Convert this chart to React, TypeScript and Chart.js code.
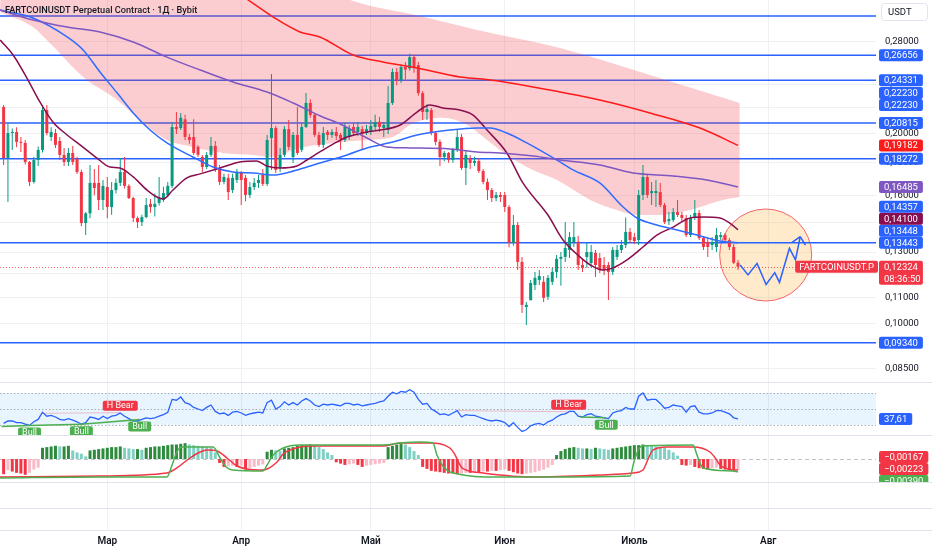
import React, { useEffect, useRef } from "react";
import { Chart, registerables } from "chart.js";

Chart.register(...registerables);

// ================= DATA =================
const TITLE = "FARTCOINUSDT Perpetual Contract · 1Д · Bybit";
const SYMBOL = "FARTCOINUSDT.P";
const COUNTDOWN = "08:36:50";
const CURRENCY = "USDT";

// day offsets are counted from 1 March
const FIRST_DAY = -24;
const monthTickDays = [0, 31, 61, 92, 122, 153];
const monthTickLabels = ["Мар", "Апр", "Май", "Июн", "Июль", "Авг"];
const priceTickValues = [0.28, 0.24, 0.22, 0.2, 0.18, 0.16, 0.145, 0.13, 0.12, 0.11, 0.1, 0.085];

const candleOpen = [
  0.2207, 0.1832, 0.2007, 0.2015, 0.1943, 0.1936, 0.1806, 0.1679, 0.1819, 0.1887,
  0.2183, 0.1978, 0.2007, 0.1950, 0.1853, 0.1806, 0.1866, 0.1826, 0.1741, 0.1445,
  0.1497, 0.1673, 0.1673, 0.1572, 0.1648, 0.1532, 0.1630, 0.1673, 0.1741, 0.1655,
  0.1583, 0.1472, 0.1450, 0.1477, 0.1550, 0.1532, 0.1555, 0.1572, 0.1601, 0.1655,
  0.2052, 0.2044, 0.2110, 0.1978, 0.1978, 0.1908, 0.1839, 0.1773, 0.1853, 0.1915,
  0.1766, 0.1679, 0.1704, 0.1630, 0.1691, 0.1735, 0.1704, 0.1601, 0.1648, 0.1673,
  0.1722, 0.1667, 0.1971, 0.2044, 0.1766, 0.1853, 0.2036, 0.1839, 0.1993, 0.1887,
  0.2052, 0.2240, 0.2145, 0.1993, 0.1922, 0.2015, 0.1993, 0.2015, 0.1993, 0.1957,
  0.1978, 0.2052, 0.2015, 0.2036, 0.2007, 0.2022, 0.2052, 0.2090, 0.2044, 0.2029,
  0.2240, 0.2508, 0.2436, 0.2554, 0.2540, 0.2648, 0.2572, 0.2322, 0.2167, 0.2183,
  0.2007, 0.1943, 0.1839, 0.1866, 0.1819, 0.1887, 0.1978, 0.1767, 0.1832, 0.1799,
  0.1812, 0.1747, 0.1679, 0.1630, 0.1583, 0.1601, 0.1601, 0.1532, 0.1344, 0.1435,
  0.1254, 0.1064, 0.1090, 0.1153, 0.1174, 0.1166, 0.1104, 0.1166, 0.1209, 0.1268,
  0.1277, 0.1310, 0.1348, 0.1350, 0.1240, 0.1277, 0.1249, 0.1296, 0.1272, 0.1240,
  0.1240, 0.1209, 0.1277, 0.1310, 0.1334, 0.1399, 0.1373, 0.1358, 0.1601, 0.1710,
  0.1612, 0.1612, 0.1618, 0.1543, 0.1455, 0.1461, 0.1504, 0.1488, 0.1472, 0.1383,
  0.1472, 0.1499, 0.1368, 0.1348, 0.1334, 0.1324, 0.1373, 0.1383, 0.1358, 0.1324, 0.1250,
];
const candleHigh = [
  0.2224, 0.2082, 0.2040, 0.2050, 0.1978, 0.1957, 0.1812, 0.1840, 0.1910, 0.2224,
  0.2224, 0.2050, 0.2036, 0.1978, 0.1901, 0.1901, 0.1915, 0.1840, 0.1755, 0.1505,
  0.1786, 0.1760, 0.1786, 0.1691, 0.1710, 0.1679, 0.1700, 0.1832, 0.1839, 0.1665,
  0.1590, 0.1480, 0.1490, 0.1583, 0.1577, 0.1610, 0.1710, 0.1650, 0.1679, 0.2090,
  0.2167, 0.2160, 0.2145, 0.2000, 0.2110, 0.1920, 0.1853, 0.1873, 0.1978, 0.1950,
  0.1786, 0.1730, 0.1730, 0.1730, 0.1760, 0.1745, 0.1722, 0.1679, 0.1704, 0.1722,
  0.1760, 0.1993, 0.2490, 0.2060, 0.1901, 0.2060, 0.2105, 0.2015, 0.2207, 0.2082,
  0.2322, 0.2270, 0.2160, 0.2015, 0.2052, 0.2029, 0.2036, 0.2052, 0.2007, 0.2082,
  0.2067, 0.2082, 0.2090, 0.2060, 0.2067, 0.2105, 0.2145, 0.2130, 0.2090, 0.2383,
  0.2540, 0.2545, 0.2580, 0.2600, 0.2680, 0.2670, 0.2600, 0.2340, 0.2230, 0.2200,
  0.2020, 0.1960, 0.1880, 0.1873, 0.1901, 0.2029, 0.2000, 0.1880, 0.1853, 0.1840,
  0.1830, 0.1760, 0.1700, 0.1642, 0.1618, 0.1618, 0.1618, 0.1543, 0.1488, 0.1450,
  0.1277, 0.1083, 0.1174, 0.1209, 0.1217, 0.1191, 0.1196, 0.1227, 0.1286, 0.1300,
  0.1450, 0.1399, 0.1450, 0.1380, 0.1263, 0.1344, 0.1334, 0.1310, 0.1296, 0.1277,
  0.1254, 0.1324, 0.1334, 0.1358, 0.1474, 0.1419, 0.1394, 0.1630, 0.1786, 0.1722,
  0.1679, 0.1691, 0.1673, 0.1555, 0.1504, 0.1527, 0.1572, 0.1504, 0.1488, 0.1488,
  0.1572, 0.1515, 0.1378, 0.1368, 0.1373, 0.1419, 0.1399, 0.1394, 0.1368, 0.1339, 0.1263,
];
const candleLow = [
  0.1786, 0.1560, 0.1887, 0.1906, 0.1873, 0.1790, 0.1655, 0.1670, 0.1780, 0.1870,
  0.1990, 0.1950, 0.1900, 0.1819, 0.1780, 0.1780, 0.1786, 0.1728, 0.1430, 0.1384,
  0.1470, 0.1600, 0.1515, 0.1515, 0.1470, 0.1490, 0.1610, 0.1655, 0.1640, 0.1577,
  0.1450, 0.1419, 0.1430, 0.1470, 0.1500, 0.1480, 0.1540, 0.1560, 0.1589, 0.1642,
  0.2000, 0.2029, 0.1957, 0.1930, 0.1853, 0.1839, 0.1741, 0.1760, 0.1839, 0.1741,
  0.1661, 0.1665, 0.1572, 0.1612, 0.1673, 0.1543, 0.1565, 0.1583, 0.1630, 0.1642,
  0.1655, 0.1655, 0.1754, 0.1735, 0.1741, 0.1839, 0.1887, 0.1799, 0.1853, 0.1873,
  0.2044, 0.2122, 0.1978, 0.1908, 0.1901, 0.1957, 0.1971, 0.1957, 0.1887, 0.1943,
  0.1957, 0.1993, 0.1985, 0.1887, 0.1993, 0.1993, 0.2029, 0.2015, 0.1978, 0.2000,
  0.2224, 0.2390, 0.2410, 0.2440, 0.2520, 0.2500, 0.2300, 0.2105, 0.2105, 0.1990,
  0.1920, 0.1780, 0.1810, 0.1800, 0.1800, 0.1873, 0.1754, 0.1661, 0.1760, 0.1780,
  0.1735, 0.1665, 0.1572, 0.1560, 0.1565, 0.1560, 0.1504, 0.1323, 0.1330, 0.1217,
  0.1041, 0.0996, 0.1091, 0.1132, 0.1153, 0.1083, 0.1091, 0.1153, 0.1183, 0.1150,
  0.1254, 0.1272, 0.1324, 0.1217, 0.1209, 0.1227, 0.1227, 0.1187, 0.1204, 0.1196,
  0.1091, 0.1196, 0.1263, 0.1296, 0.1319, 0.1344, 0.1339, 0.1334, 0.1572, 0.1583,
  0.1543, 0.1532, 0.1532, 0.1440, 0.1435, 0.1450, 0.1477, 0.1450, 0.1373, 0.1373,
  0.1461, 0.1358, 0.1310, 0.1277, 0.1310, 0.1300, 0.1358, 0.1348, 0.1310, 0.1245, 0.1217,
];
const candleClose = [
  0.1832, 0.2007, 0.2015, 0.1943, 0.1936, 0.1806, 0.1679, 0.1819, 0.1887, 0.2183,
  0.2007, 0.2015, 0.1922, 0.1853, 0.1806, 0.1866, 0.1806, 0.1741, 0.1445, 0.1497,
  0.1673, 0.1642, 0.1572, 0.1655, 0.1532, 0.1630, 0.1673, 0.1741, 0.1655, 0.1583,
  0.1472, 0.1450, 0.1477, 0.1543, 0.1532, 0.1550, 0.1583, 0.1612, 0.1655, 0.2052,
  0.2036, 0.2122, 0.1978, 0.1957, 0.1866, 0.1853, 0.1773, 0.1853, 0.1915, 0.1754,
  0.1679, 0.1710, 0.1618, 0.1704, 0.1735, 0.1691, 0.1601, 0.1648, 0.1673, 0.1691,
  0.1667, 0.1957, 0.2044, 0.1754, 0.1853, 0.2036, 0.1908, 0.1993, 0.1866, 0.2052,
  0.2240, 0.2145, 0.1993, 0.1922, 0.2007, 0.1993, 0.2015, 0.1985, 0.1965, 0.2052,
  0.2044, 0.2007, 0.2052, 0.2007, 0.2036, 0.2060, 0.2090, 0.2052, 0.2067, 0.2240,
  0.2508, 0.2436, 0.2554, 0.2530, 0.2648, 0.2554, 0.2322, 0.2167, 0.2190, 0.2007,
  0.1943, 0.1839, 0.1866, 0.1819, 0.1887, 0.1978, 0.1767, 0.1853, 0.1799, 0.1812,
  0.1747, 0.1679, 0.1630, 0.1583, 0.1601, 0.1589, 0.1532, 0.1344, 0.1435, 0.1254,
  0.1072, 0.1072, 0.1161, 0.1183, 0.1191, 0.1100, 0.1183, 0.1209, 0.1268, 0.1277,
  0.1319, 0.1373, 0.1373, 0.1240, 0.1227, 0.1300, 0.1300, 0.1240, 0.1217, 0.1217,
  0.1209, 0.1310, 0.1310, 0.1334, 0.1399, 0.1358, 0.1353, 0.1601, 0.1710, 0.1601,
  0.1624, 0.1624, 0.1543, 0.1450, 0.1466, 0.1504, 0.1488, 0.1472, 0.1383, 0.1472,
  0.1499, 0.1368, 0.1324, 0.1324, 0.1348, 0.1383, 0.1383, 0.1358, 0.1324, 0.1250, 0.12324,
];

// moving averages: [day, price]
const maRed = [
  [29.8, 0.3359], [32.6, 0.3262], [38.4, 0.3065], [44.6, 0.2902], [49.2, 0.285], [56.9, 0.2668],
  [63.8, 0.2601], [71.7, 0.2545], [81.6, 0.2463], [86.9, 0.2445], [94.8, 0.2401], [104.8, 0.2331],
  [114.0, 0.2264], [125.6, 0.216], [137.2, 0.2044], [146.0, 0.19182],
];
const maPurple = [
  [-24.8, 0.3145], [-17.2, 0.3032], [-9.3, 0.2955], [-1.7, 0.2902], [6.0, 0.2798], [13.8, 0.2648],
  [21.5, 0.2526], [29.1, 0.2418], [37.0, 0.2331], [43.0, 0.224], [49.2, 0.2138], [53.9, 0.2074],
  [60.1, 0.1971], [64.7, 0.1908], [70.1, 0.1901], [79.3, 0.1894], [85.6, 0.1873], [90.9, 0.1866],
  [98.6, 0.1846], [104.8, 0.1819], [114.0, 0.1786], [121.7, 0.1735], [131.0, 0.1716], [138.8, 0.1691],
  [146.0, 0.16485],
];
const maBlue = [
  [-24.8, 0.3145], [-17.2, 0.3054], [-9.3, 0.285], [-5.6, 0.2718], [-1.7, 0.2508], [2.3, 0.2322],
  [6.0, 0.216], [9.9, 0.2029], [13.8, 0.1936], [19.8, 0.1839], [24.5, 0.1773], [29.1, 0.1741],
  [33.7, 0.1735], [38.4, 0.1722], [42.3, 0.1741], [46.2, 0.1773], [49.2, 0.1799], [55.5, 0.1853],
  [60.1, 0.1901], [63.1, 0.1922], [67.8, 0.1957], [71.7, 0.1993], [79.3, 0.2029], [85.6, 0.2044],
  [88.6, 0.2044], [92.5, 0.2007], [97.1, 0.1936], [104.8, 0.1806], [107.8, 0.1754], [114.0, 0.1673],
  [119.4, 0.1532], [122.6, 0.1472], [127.2, 0.1435], [131.9, 0.1409], [136.5, 0.1383], [141.8, 0.1353],
  [146.0, 0.13448],
];
const maMaroon = [
  [-24.8, 0.2818], [-21.8, 0.2668], [-18.6, 0.2453], [-15.6, 0.2248], [-12.6, 0.209], [-9.3, 0.1993],
  [-6.3, 0.1922], [-2.4, 0.1832], [0.6, 0.1773], [2.9, 0.1767], [6.0, 0.171], [9.2, 0.163],
  [11.5, 0.1589], [12.9, 0.1578], [15.2, 0.163], [18.4, 0.1704], [21.5, 0.1729], [26.1, 0.1767],
  [30.7, 0.1806], [34.6, 0.1813], [36.9, 0.178], [39.9, 0.1767], [43.9, 0.178], [46.2, 0.1819],
  [49.2, 0.1873], [53.2, 0.1943], [55.5, 0.1978], [60.1, 0.2015], [63.1, 0.2029], [67.8, 0.2067],
  [71.7, 0.2167], [74.7, 0.2224], [77.7, 0.2199], [81.6, 0.2183], [84.6, 0.2145], [87.9, 0.2029],
  [92.5, 0.1866], [96.2, 0.1673], [102.0, 0.1488], [105.5, 0.1358], [109.4, 0.1277], [111.8, 0.124],
  [114.7, 0.1217], [117.1, 0.1227], [120.3, 0.1263], [124.0, 0.1324], [127.2, 0.1383], [131.0, 0.1424],
  [134.9, 0.1472], [137.9, 0.1477], [141.8, 0.1472], [144.1, 0.1445], [146.0, 0.141],
];

// shaded channel: [day, price]
const bandUpper = [
  [-24.8, 0.5638], [21.5, 0.421], [56.2, 0.3262], [72.4, 0.3076], [85.6, 0.2923], [104.8, 0.2738],
  [125.6, 0.2481], [146.4, 0.224],
];
const bandLower = [
  [-24.8, 0.3122], [-17.2, 0.2955], [-13.3, 0.2788], [-5.6, 0.2463], [2.3, 0.2264], [8.3, 0.2082],
  [13.8, 0.1957], [19.8, 0.1908], [25.4, 0.1873], [29.1, 0.1859], [33.7, 0.1853], [37.7, 0.1839],
  [44.6, 0.1901], [52.3, 0.1936], [60.1, 0.1957], [66.1, 0.1978], [70.1, 0.2067], [74.0, 0.2113],
  [77.7, 0.2122], [83.3, 0.2067], [87.9, 0.1957], [92.5, 0.1853], [98.5, 0.1754], [104.1, 0.1691],
  [111.8, 0.1572], [118.0, 0.1515], [122.6, 0.1488], [127.2, 0.1488], [131.9, 0.1499], [136.5, 0.1527],
  [142.5, 0.1572], [146.4, 0.1589],
];

const horizontalLevels = [0.3076, 0.26656, 0.24331, 0.20815, 0.18272, 0.13443, 0.0934];
const extraPriceTags = [0.2223, 0.2223, 0.14357];

// projected path and highlight circle
const projection = [
  [146.5, 0.124], [148.3, 0.1196], [150.4, 0.1247], [152.5, 0.1155], [154.5, 0.1206],
  [155.6, 0.1164], [157.9, 0.1318], [159.3, 0.1263], [160.4, 0.1375],
];
const circleCenter = [152.4, 0.1286];

// RSI
const rsiValues = [
  32, 35, 35, 33, 33, 31, 29.5, 34, 37, 46,
  41, 42, 40, 37, 36, 38, 36, 34, 31, 33,
  40, 39, 37, 41, 38, 41, 42, 45, 41, 38,
  35, 35, 37, 39, 38, 39, 41, 43, 46, 62,
  61, 65, 58, 56, 52, 50, 48, 52, 55, 47,
  44, 45, 42, 46, 47, 45, 42, 44, 45, 46,
  45, 58, 61, 50, 53, 59, 55, 58, 55, 60,
  63, 60, 55, 53, 56, 55, 56, 55, 54, 57,
  57, 55, 56, 54, 55, 56, 57, 59, 60, 66,
  71, 69, 72, 71, 74, 71, 62, 56, 57, 50,
  47, 43, 44, 42, 45, 48, 40, 43, 42, 42,
  40, 38, 36, 35, 36, 35, 33, 28, 33, 27,
  22, 24, 29, 31, 32, 30, 34, 36, 40, 43,
  44, 47, 47, 41, 40, 43, 44, 41, 40, 39,
  38, 45, 47, 48, 52, 50, 50, 66, 70, 61,
  62, 62, 57, 51, 52, 55, 54, 53, 46, 53,
  54, 46, 44, 44, 45, 48, 48, 46, 44, 39, 37.61,
];
const rsiLevels = [70, 50, 30];
const bullDivergences = [
  [-24.5, 28, -18, 29.5], [-18, 29.5, -6, 31], [-6, 31, 7.5, 37], [109.5, 40, 115.5, 39],
];
const bullMarks = [[-18, 29.5], [-6, 31], [7.5, 37], [115.5, 39]];
const bearDivergences = [[-15, 44.6, 3, 45.4], [81, 48, 106.5, 46.6]];
const bearMarks = [[3, 45.4], [106.8, 46.6]];

// MACD-like oscillator
const macdHist = [
  -0.0023, -0.0017, -0.0019, -0.0021, -0.0022, -0.0024, -0.0021, -0.0016, -0.0013, 0.0017,
  0.0018, 0.0019, 0.002, 0.0019, 0.0019, 0.002, 0.0013, 0.001, 0.0008, 0.0004,
  0.0013, 0.0014, 0.0015, 0.0016, 0.0017, 0.0018, 0.0018, 0.0019, 0.0017, 0.0016,
  0.0015, 0.0015, 0.0014, 0.0017, 0.0018, 0.0019, 0.0019, 0.002, 0.0021, 0.0022,
  0.0022, 0.0023, 0.0024, 0.0022, 0.0021, 0.002, 0.0019, 0.0018, 0.0017, 0.001,
  -0.0006, -0.0012, -0.0011, -0.001, -0.0012, -0.001, -0.0016, -0.0014, -0.0012, -0.001,
  -0.0008, 0.0011, 0.0014, 0.0013, 0.0012, 0.0016, 0.0017, 0.0018, 0.002, 0.0021,
  0.0021, 0.0022, 0.0021, 0.0018, 0.0015, 0.001, 0.0006, -0.0005, -0.0007, -0.0009,
  -0.0008, -0.0007, -0.0009, -0.0012, -0.001, -0.0009, -0.0008, -0.0007, -0.0006, 0.0018,
  0.002, 0.0022, 0.0023, 0.0022, 0.0018, 0.0012, 0.0006, -0.0012, -0.0015, -0.0018,
  -0.0019, -0.002, -0.0021, -0.0022, -0.0022, -0.0023, -0.0022, -0.0021, -0.0021, -0.002,
  -0.002, -0.0019, -0.0019, -0.0018, -0.0018, -0.0017, -0.0016, -0.0018, -0.002, -0.0022,
  -0.0023, -0.0022, -0.0021, -0.002, -0.0018, -0.0016, -0.0013, -0.0009, 0.0006, 0.0012,
  0.0015, 0.0017, 0.0018, 0.0017, 0.0016, 0.0016, 0.0015, 0.0017, 0.0016, 0.0015,
  0.0014, 0.0016, 0.0017, 0.0018, 0.0019, 0.002, 0.0021, 0.0021, 0.0022, 0.0021,
  0.002, 0.0019, 0.0018, 0.0017, 0.0014, 0.001, 0.0005, -0.0009, -0.001, -0.0009,
  -0.0012, -0.0014, -0.0015, -0.0016, -0.0014, -0.0013, -0.0015, -0.0016, -0.0017, -0.0017, -0.00167,
];
const macdGreen = [
  [-24.84, -0.00288], [-1.69, -0.00273], [13.8, -0.00273], [15.0, -0.00091], [16.1, 0.00106],
  [17.3, 0.00182], [24.5, 0.00182], [26.1, 0.00015], [27.5, -0.00121], [29.1, -0.00167],
  [36.0, -0.00182], [37.0, -0.00091], [38.4, 0.00061], [40.7, 0.00167], [44.6, 0.00212],
  [63.8, 0.00212], [67.8, 0.00242], [72.4, 0.00258], [75.4, 0.00242], [76.3, 0.00061],
  [77.5, -0.00091], [78.6, -0.00167], [79.3, -0.00197], [90.9, -0.00273], [102.5, -0.00273],
  [121.0, -0.00258], [121.9, -0.00045], [122.9, 0.00136], [123.8, 0.00197], [135.6, 0.00212],
  [136.5, 0.00061], [137.2, -0.00061], [137.9, -0.00136], [144.8, -0.00182], [146.0, -0.00197],
];
const macdRed = [
  [-24.84, -0.00273], [-1.69, -0.00258], [13.8, -0.00212], [16.1, -0.00136], [19.1, 0.00015],
  [21.5, 0.00106], [23.1, 0.00136], [25.4, 0.00121], [27.7, 0.00015], [30.0, -0.00106],
  [32.3, -0.00152], [36.0, -0.00167], [39.3, -0.00045], [40.7, 0.00076], [42.3, 0.00136],
  [46.9, 0.00197], [63.8, 0.00197], [67.8, 0.00242], [74.7, 0.00242], [79.3, 0.00167],
  [80.5, 0.00061], [81.4, -0.00061], [82.1, -0.00136], [87.0, -0.00212], [98.6, -0.00273],
  [114.0, -0.00242], [121.7, -0.00212], [124.0, -0.00167], [124.9, -0.00045], [125.6, 0.00061],
  [126.3, 0.00136], [129.5, 0.00182], [135.6, 0.00182], [139.5, 0.00106], [140.9, 0.0],
  [141.8, -0.00091], [143.0, -0.00136], [144.8, -0.00167], [146.0, -0.00167],
];
const macdTagValues = [-0.00167, -0.00223, -0.0039];

// ================= LAYOUT / STYLE =================
const W = 932;
const H = 550;
const PLOT_RIGHT = 876;
const AXIS_H = 20;
const PLOT_BOTTOM = H - AXIS_H;
const X_DAY0 = 107.3;
const PX_PER_DAY = 4.32;
const PRICE_REF = 0.2;
const PRICE_REF_Y = 134;
const PX_PER_LN = 274;
const RSI_MID_Y = 409;
const RSI_PX = 0.8;
const MACD_ZERO_Y = 459;
const MACD_PX = 6600;
const RSI_PANE = [382, 435];
const MACD_PANE = [435, 482];
const PANE_SEPARATORS = [382, 435, 482, 508, 530];
const TAG_X = 879;
const TAG_H = 12;
const FONT = "Roboto, 'Noto Sans', sans-serif";
const TEXT_PX = 9.5;

const C_UP = "#089981";
const C_DOWN = "#F23645";
const C_BLUE = "#2962FF";
const C_RED_MA = "#FF1A1A";
const C_PURPLE = "#7E57C2";
const C_MAROON = "#880E4F";
const C_GREEN = "#4CAF50";

const fmtPrice = (v: number) => v.toFixed(5).replace(".", ",");
const fmtNeg = (v: number) => (v < 0 ? "\u2212" : "") + Math.abs(v).toFixed(5).replace(".", ",");
const pts = (arr: number[][]) => arr.map(([x, y]) => ({ x, y }));

function rrect(ctx: CanvasRenderingContext2D, x: number, y: number, w: number, h: number, r: number) {
  ctx.beginPath();
  if ((ctx as any).roundRect) (ctx as any).roundRect(x, y, w, h, r);
  else ctx.rect(x, y, w, h);
}

function tag(ctx: CanvasRenderingContext2D, text: string, x: number, yc: number, bg: string) {
  ctx.font = `${TEXT_PX}px ${FONT}`;
  const w = ctx.measureText(text).width + 10;
  ctx.fillStyle = bg;
  rrect(ctx, x, yc - TAG_H / 2, w, TAG_H, 2);
  ctx.fill();
  ctx.fillStyle = "#ffffff";
  ctx.textAlign = "left";
  ctx.textBaseline = "middle";
  ctx.fillText(text, x + 5, yc + 0.5);
}

function stack(items: any[], limitBottom?: number) {
  const sorted = [...items].sort((a, b) => b.y - a.y);
  let prev = Infinity;
  sorted.forEach((it, i) => {
    let y = it.y;
    if (i === 0 && limitBottom !== undefined) y = Math.min(y, limitBottom);
    if (i > 0) y = Math.min(y, prev - TAG_H);
    it.y = y;
    prev = y;
  });
  return sorted;
}

const decorPlugin = {
  id: "tvDecor",
  beforeDraw(chart: any) {
    const ctx = chart.ctx;
    ctx.save();
    ctx.fillStyle = "#ffffff";
    ctx.fillRect(0, 0, chart.width, chart.height);
    ctx.restore();
  },
  beforeDatasetsDraw(chart: any) {
    const { ctx, chartArea: ca, scales } = chart;
    const { x, y, yRsi, yMacd } = scales;
    const hline = (py: number, x0: number, x1: number) => {
      ctx.beginPath();
      ctx.moveTo(x0, py);
      ctx.lineTo(x1, py);
      ctx.stroke();
    };
    ctx.save();
    // RSI band
    const r70 = yRsi.getPixelForValue(rsiLevels[0]);
    const r30 = yRsi.getPixelForValue(rsiLevels[2]);
    ctx.fillStyle = "rgba(33,150,243,0.1)";
    ctx.fillRect(ca.left, r70, ca.right - ca.left, r30 - r70);
    ctx.lineWidth = 1;
    ctx.strokeStyle = "rgba(120,123,134,0.6)";
    ctx.setLineDash([1.5, 2]);
    rsiLevels.forEach((v) => hline(Math.round(yRsi.getPixelForValue(v)) + 0.5, ca.left, ca.right));
    // MACD zero line
    ctx.setLineDash([4, 3]);
    ctx.strokeStyle = "rgba(120,123,134,0.45)";
    hline(Math.round(yMacd.getPixelForValue(0)) + 0.5, ca.left, ca.right);
    ctx.setLineDash([]);
    // pane separators
    ctx.strokeStyle = "#E0E3EB";
    PANE_SEPARATORS.forEach((py) => hline(py + 0.5, 0, chart.width));
    // highlight circle
    const cx = x.getPixelForValue(circleCenter[0]);
    const cy = y.getPixelForValue(circleCenter[1]);
    ctx.beginPath();
    ctx.arc(cx, cy, 46, 0, Math.PI * 2);
    ctx.fillStyle = "rgba(255,152,0,0.2)";
    ctx.fill();
    ctx.strokeStyle = "rgba(242,54,69,0.75)";
    ctx.lineWidth = 1;
    ctx.stroke();
    // horizontal levels
    ctx.strokeStyle = C_BLUE;
    ctx.lineWidth = 1.5;
    horizontalLevels.forEach((v) => hline(y.getPixelForValue(v), ca.left, ca.right));
    // last price dotted line
    ctx.strokeStyle = "rgba(242,54,69,0.8)";
    ctx.lineWidth = 1;
    ctx.setLineDash([1, 2]);
    hline(Math.round(y.getPixelForValue(candleClose[candleClose.length - 1])) + 0.5, ca.left, ca.right);
    ctx.restore();
  },
  afterDatasetsDraw(chart: any) {
    const { ctx, chartArea: ca, scales } = chart;
    const { x, y, yRsi } = scales;
    ctx.save();
    // RSI divergences
    ctx.beginPath();
    ctx.rect(ca.left, RSI_PANE[0], ca.right - ca.left, RSI_PANE[1] - RSI_PANE[0]);
    ctx.clip();
    const seg = (s: number[], color: string, w: number) => {
      ctx.strokeStyle = color;
      ctx.lineWidth = w;
      ctx.beginPath();
      ctx.moveTo(x.getPixelForValue(s[0]), yRsi.getPixelForValue(s[1]));
      ctx.lineTo(x.getPixelForValue(s[2]), yRsi.getPixelForValue(s[3]));
      ctx.stroke();
    };
    bearDivergences.forEach((s) => seg(s, "rgba(242,54,69,0.3)", 1));
    bullDivergences.forEach((s) => seg(s, C_GREEN, 1.5));
    const mark = (d: number, v: number, text: string, bg: string, below: boolean) => {
      ctx.font = `9px ${FONT}`;
      const w = ctx.measureText(text).width + 8;
      const h = 10;
      const px = x.getPixelForValue(d);
      const py = yRsi.getPixelForValue(v);
      const top = below ? py + 2 : py - 2 - h;
      ctx.fillStyle = bg;
      rrect(ctx, px - w / 2, top, w, h, 2);
      ctx.fill();
      ctx.fillStyle = "#ffffff";
      ctx.textAlign = "center";
      ctx.textBaseline = "middle";
      ctx.fillText(text, px, top + h / 2 + 0.5);
    };
    bearMarks.forEach(([d, v]) => mark(d, v, "H Bear", C_DOWN, false));
    bullMarks.forEach(([d, v]) => mark(d, v, "Bull", C_GREEN, true));
    ctx.restore();

    // arrow head on the projection
    ctx.save();
    const n = projection.length;
    const tx = x.getPixelForValue(projection[n - 1][0]);
    const ty = y.getPixelForValue(projection[n - 1][1]);
    const fx = x.getPixelForValue(projection[n - 2][0]);
    const fy = y.getPixelForValue(projection[n - 2][1]);
    const ang = Math.atan2(ty - fy, tx - fx);
    ctx.strokeStyle = C_BLUE;
    ctx.lineWidth = 1.5;
    ctx.beginPath();
    [-1, 1].forEach((s) => {
      const a = ang + Math.PI + s * 0.75;
      ctx.moveTo(tx, ty);
      ctx.lineTo(tx + Math.cos(a) * 10, ty + Math.sin(a) * 10);
    });
    ctx.stroke();
    ctx.restore();

    // title
    ctx.save();
    ctx.font = `500 9.2px ${FONT}`;
    ctx.fillStyle = "#131722";
    ctx.textAlign = "left";
    ctx.textBaseline = "middle";
    ctx.fillText(TITLE, 5, 11);
    ctx.restore();
  },
  afterDraw(chart: any) {
    const { ctx, scales } = chart;
    const { y, yRsi, yMacd } = scales;
    ctx.save();
    // main pane price tags
    const last = (a: number[][]) => a[a.length - 1][1];
    const lastClose = candleClose[candleClose.length - 1];
    const items: any[] = [];
    horizontalLevels.forEach((v) => {
      const py = y.getPixelForValue(v);
      if (py > 25) items.push({ y: py, text: fmtPrice(v), bg: C_BLUE });
    });
    extraPriceTags.forEach((v) => items.push({ y: y.getPixelForValue(v), text: fmtPrice(v), bg: C_BLUE }));
    items.push({ y: y.getPixelForValue(last(maRed)), text: fmtPrice(last(maRed)), bg: C_RED_MA });
    items.push({ y: y.getPixelForValue(last(maPurple)), text: fmtPrice(last(maPurple)), bg: C_PURPLE });
    items.push({ y: y.getPixelForValue(last(maMaroon)), text: fmtPrice(last(maMaroon)), bg: C_MAROON });
    items.push({ y: y.getPixelForValue(last(maBlue)), text: fmtPrice(last(maBlue)), bg: C_BLUE });
    items.push({ y: y.getPixelForValue(lastClose), text: fmtPrice(lastClose), bg: C_DOWN, price: true });
    stack(items).forEach((it) => {
      if (it.price) {
        ctx.font = `${TEXT_PX}px ${FONT}`;
        const w = ctx.measureText(it.text).width + 10;
        ctx.fillStyle = it.bg;
        rrect(ctx, TAG_X, it.y - TAG_H / 2, w, TAG_H * 2, 2);
        ctx.fill();
        ctx.fillStyle = "#ffffff";
        ctx.textAlign = "left";
        ctx.textBaseline = "middle";
        ctx.fillText(it.text, TAG_X + 5, it.y + 0.5);
        ctx.fillText(COUNTDOWN, TAG_X + 5, it.y + 12.5);
        // symbol tag on the left of the scale
        const sw = ctx.measureText(SYMBOL).width + 8;
        ctx.fillStyle = it.bg;
        rrect(ctx, PLOT_RIGHT + 2 - sw, it.y - TAG_H / 2, sw, TAG_H, 2);
        ctx.fill();
        ctx.fillStyle = "#ffffff";
        ctx.fillText(SYMBOL, PLOT_RIGHT + 2 - sw + 4, it.y + 0.5);
      } else {
        tag(ctx, it.text, TAG_X, it.y, it.bg);
      }
    });
    // RSI tag
    const lastRsi = rsiValues[rsiValues.length - 1];
    tag(ctx, lastRsi.toFixed(2).replace(".", ","), TAG_X, yRsi.getPixelForValue(lastRsi), C_BLUE);
    // oscillator tags
    ctx.save();
    ctx.beginPath();
    ctx.rect(PLOT_RIGHT, MACD_PANE[0], W - PLOT_RIGHT, MACD_PANE[1] - MACD_PANE[0]);
    ctx.clip();
    const mItems = macdTagValues.map((v, i) => ({
      y: yMacd.getPixelForValue(v),
      text: fmtNeg(v),
      bg: i === 2 ? C_GREEN : C_DOWN,
    }));
    stack(mItems, MACD_PANE[1] - 1).forEach((it) => tag(ctx, it.text, TAG_X, it.y, it.bg));
    ctx.restore();
    // currency box
    ctx.fillStyle = "#ffffff";
    ctx.strokeStyle = "#E0E3EB";
    ctx.lineWidth = 1;
    rrect(ctx, 881.5, 3.5, 46, 17, 3);
    ctx.fill();
    ctx.stroke();
    ctx.fillStyle = "#131722";
    ctx.font = `${TEXT_PX}px ${FONT}`;
    ctx.textAlign = "left";
    ctx.textBaseline = "middle";
    ctx.fillText(CURRENCY, 888, 12.5);
    ctx.restore();
  },
};

export default function App() {
  const ref = useRef<HTMLCanvasElement | null>(null);
  useEffect(() => {
    document.body.style.margin = "0";
    const days = candleOpen.map((_, i) => FIRST_DAY + i);
    const colors = candleOpen.map((o, i) => (candleClose[i] >= o ? C_UP : C_DOWN));
    const histColors = macdHist.map((v, i) => {
      const p = i > 0 ? macdHist[i - 1] : v;
      if (v >= 0) return v >= p ? "#2E8B3E" : "#80CFC3";
      return v <= p ? "#F23645" : "#F8BBC8";
    });
    const lineBase = { type: "line", pointRadius: 0, borderWidth: 1.5, fill: false, yAxisID: "y" };
    const noPad = (s: any) => {
      s.paddingTop = 0;
      s.paddingBottom = 0;
      s.paddingLeft = 0;
      s.paddingRight = 0;
    };

    const chart = new Chart(ref.current as HTMLCanvasElement, {
      type: "line",
      data: {
        datasets: [
          {
            ...lineBase,
            data: pts(bandUpper),
            borderWidth: 0,
            fill: "+1",
            backgroundColor: "rgba(242,54,69,0.25)",
            cubicInterpolationMode: "monotone",
            order: 20,
          },
          { ...lineBase, data: pts(bandLower), borderWidth: 0, cubicInterpolationMode: "monotone", order: 20 },
          {
            type: "bar",
            yAxisID: "y",
            data: days.map((d, i) => ({ x: d, y: [candleLow[i], candleHigh[i]] })),
            backgroundColor: colors,
            maxBarThickness: 1,
            grouped: false,
            order: 10,
          },
          {
            type: "bar",
            yAxisID: "y",
            data: days.map((d, i) => ({
              x: d,
              y: [Math.min(candleOpen[i], candleClose[i]), Math.max(candleOpen[i], candleClose[i])],
            })),
            backgroundColor: colors,
            maxBarThickness: 3,
            minBarLength: 1,
            grouped: false,
            order: 9,
          },
          { ...lineBase, data: pts(maRed), borderColor: C_RED_MA, cubicInterpolationMode: "monotone", order: 5 },
          { ...lineBase, data: pts(maPurple), borderColor: C_PURPLE, cubicInterpolationMode: "monotone", order: 5 },
          { ...lineBase, data: pts(maBlue), borderColor: "#2F6BFF", cubicInterpolationMode: "monotone", order: 5 },
          { ...lineBase, data: pts(maMaroon), borderColor: C_MAROON, cubicInterpolationMode: "monotone", order: 5 },
          { ...lineBase, data: pts(projection), borderColor: C_BLUE, order: 1 },
          {
            ...lineBase,
            yAxisID: "yRsi",
            data: days.map((d, i) => ({ x: d, y: rsiValues[i] })),
            borderColor: C_BLUE,
            borderWidth: 1.3,
            order: 1,
          },
          {
            type: "bar",
            yAxisID: "yMacd",
            data: days.map((d, i) => ({ x: d, y: macdHist[i] })),
            backgroundColor: histColors,
            maxBarThickness: 3,
            grouped: false,
            order: 4,
          },
          { ...lineBase, yAxisID: "yMacd", data: pts(macdGreen), borderColor: C_GREEN, cubicInterpolationMode: "monotone", order: 2 },
          { ...lineBase, yAxisID: "yMacd", data: pts(macdRed), borderColor: C_DOWN, cubicInterpolationMode: "monotone", order: 2 },
        ] as any,
      },
      options: {
        responsive: false,
        animation: false,
        events: [],
        layout: { padding: 0 },
        plugins: { legend: { display: false }, tooltip: { enabled: false }, title: { display: false } },
        scales: {
          x: {
            type: "linear",
            position: "bottom",
            bounds: "data",
            offset: false,
            min: -X_DAY0 / PX_PER_DAY,
            max: (PLOT_RIGHT - X_DAY0) / PX_PER_DAY,
            afterBuildTicks: (s: any) => {
              s.ticks = monthTickDays.map((v) => ({ value: v }));
            },
            afterFit: (s: any) => {
              s.height = AXIS_H;
              noPad(s);
            },
            ticks: {
              autoSkip: false,
              maxRotation: 0,
              padding: 5,
              color: "#131722",
              font: { family: FONT, size: 10, weight: "600" },
              callback: (v: any) => monthTickLabels[monthTickDays.indexOf(Number(v))] ?? "",
            },
            grid: { color: "#EEF0F4", drawTicks: false, offset: false },
            border: { display: false },
          },
          y: {
            type: "logarithmic",
            position: "right",
            bounds: "data",
            min: PRICE_REF * Math.exp((PRICE_REF_Y - PLOT_BOTTOM) / PX_PER_LN),
            max: PRICE_REF * Math.exp(PRICE_REF_Y / PX_PER_LN),
            afterBuildTicks: (s: any) => {
              s.ticks = priceTickValues.map((v) => ({ value: v }));
            },
            afterFit: (s: any) => {
              s.width = W - PLOT_RIGHT;
              noPad(s);
            },
            ticks: {
              autoSkip: false,
              padding: 9,
              color: "#131722",
              font: { family: FONT, size: TEXT_PX },
              callback: (v: any) => fmtPrice(Number(v)),
            },
            grid: { color: "#EEF0F4", drawTicks: false },
            border: { display: false },
          },
          yRsi: {
            type: "linear",
            display: false,
            bounds: "data",
            min: 50 - (PLOT_BOTTOM - RSI_MID_Y) / RSI_PX,
            max: 50 + RSI_MID_Y / RSI_PX,
          },
          yMacd: {
            type: "linear",
            display: false,
            bounds: "data",
            min: -(PLOT_BOTTOM - MACD_ZERO_Y) / MACD_PX,
            max: MACD_ZERO_Y / MACD_PX,
          },
        },
      } as any,
      plugins: [decorPlugin as any],
    });
    return () => chart.destroy();
  }, []);
  return (
    <div style={{ width: W, height: H, background: "#ffffff" }}>
      <canvas ref={ref} width={W} height={H} style={{ display: "block", width: W, height: H }} />
    </div>
  );
}
